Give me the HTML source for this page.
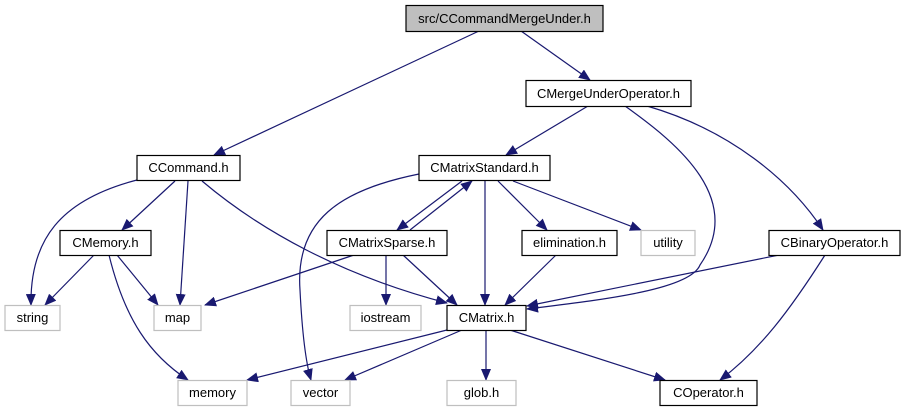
<!DOCTYPE html>
<html><head><meta charset="utf-8"><style>
body{margin:0;background:#fff}
svg text{font-family:"Liberation Sans",sans-serif;font-size:13px;text-anchor:middle}
</style></head><body>
<svg width="906" height="411" viewBox="0 0 906 411" xmlns="http://www.w3.org/2000/svg">
<defs><marker id="a" markerWidth="12" markerHeight="10" refX="11" refY="5" orient="auto" markerUnits="userSpaceOnUse"><path d="M0,0L12,5L0,10z" fill="#191970"/></marker></defs>
<g fill="none" stroke="#191970" stroke-width="1.2" marker-end="url(#a)">
<path d="M479,31L214,155"/>
<path d="M521,31L590,80"/>
<path d="M588,106L506,155"/>
<path d="M625,106C680,145 745,200 700,265C690,290 600,300 527,309"/>
<path d="M647,106C730,130 790,180 823,230"/>
<path d="M137,180C60,200 30,240 31,305"/>
<path d="M175,181L122,230"/>
<path d="M188,181L180,305"/>
<path d="M202,181C260,230 340,275 447,303"/>
<path d="M94,255L45,305"/>
<path d="M117,255L158,305"/>
<path d="M109,255C125,320 150,355 188,380"/>
<path d="M419,174C340,190 295,220 300,290C302,330 305,360 311,380"/>
<path d="M462,181L397,230"/>
<path d="M410,230L472,181"/>
<path d="M485,181L485,305"/>
<path d="M498,181L547,230"/>
<path d="M513,181L641,230"/>
<path d="M354,255L205,305"/>
<path d="M386,255L386,305"/>
<path d="M403,255L457,305"/>
<path d="M556,255L505,305"/>
<path d="M779,255L527,306"/>
<path d="M825,255C790,310 760,350 720,380"/>
<path d="M447,330L247,380"/>
<path d="M462,330L345,380"/>
<path d="M486,330L486,380"/>
<path d="M510,330L665,380"/>
</g>
<g stroke-width="1.2">
<rect x="406" y="5.5" width="197" height="26" fill="#bfbfbf" stroke="#000"/>
<rect x="526" y="80.5" width="165" height="26" fill="#fff" stroke="#000"/>
<rect x="137" y="155.5" width="103" height="25" fill="#fff" stroke="#000"/>
<rect x="419" y="155.5" width="131" height="25" fill="#fff" stroke="#000"/>
<rect x="60" y="230.5" width="91" height="25" fill="#fff" stroke="#000"/>
<rect x="327" y="230.5" width="120" height="25" fill="#fff" stroke="#000"/>
<rect x="522" y="230.5" width="95" height="25" fill="#fff" stroke="#000"/>
<rect x="641" y="230.5" width="54" height="25" fill="#fff" stroke="#bfbfbf"/>
<rect x="769" y="230.5" width="131" height="25" fill="#fff" stroke="#000"/>
<rect x="5" y="305.5" width="55" height="25" fill="#fff" stroke="#bfbfbf"/>
<rect x="154" y="305.5" width="47" height="25" fill="#fff" stroke="#bfbfbf"/>
<rect x="350" y="305.5" width="71" height="25" fill="#fff" stroke="#bfbfbf"/>
<rect x="447" y="305.5" width="79" height="25" fill="#fff" stroke="#000"/>
<rect x="178" y="380.5" width="69" height="25" fill="#fff" stroke="#bfbfbf"/>
<rect x="291" y="380.5" width="59" height="25" fill="#fff" stroke="#bfbfbf"/>
<rect x="447" y="380.5" width="69" height="25" fill="#fff" stroke="#bfbfbf"/>
<rect x="660" y="380.5" width="97" height="25" fill="#fff" stroke="#000"/>
</g>
<g fill="#000">
<text x="504.5" y="23">src/CCommandMergeUnder.h</text>
<text x="608.5" y="98">CMergeUnderOperator.h</text>
<text x="188.5" y="172">CCommand.h</text>
<text x="484.5" y="172">CMatrixStandard.h</text>
<text x="105.5" y="247">CMemory.h</text>
<text x="387" y="247">CMatrixSparse.h</text>
<text x="569.5" y="247">elimination.h</text>
<text x="668" y="247">utility</text>
<text x="834.5" y="247">CBinaryOperator.h</text>
<text x="32.5" y="322">string</text>
<text x="177.5" y="322">map</text>
<text x="385.5" y="322">iostream</text>
<text x="486.5" y="322">CMatrix.h</text>
<text x="212.5" y="397">memory</text>
<text x="320.5" y="397">vector</text>
<text x="481.5" y="397">glob.h</text>
<text x="708.5" y="397">COperator.h</text>
</g>
</svg>
</body></html>
